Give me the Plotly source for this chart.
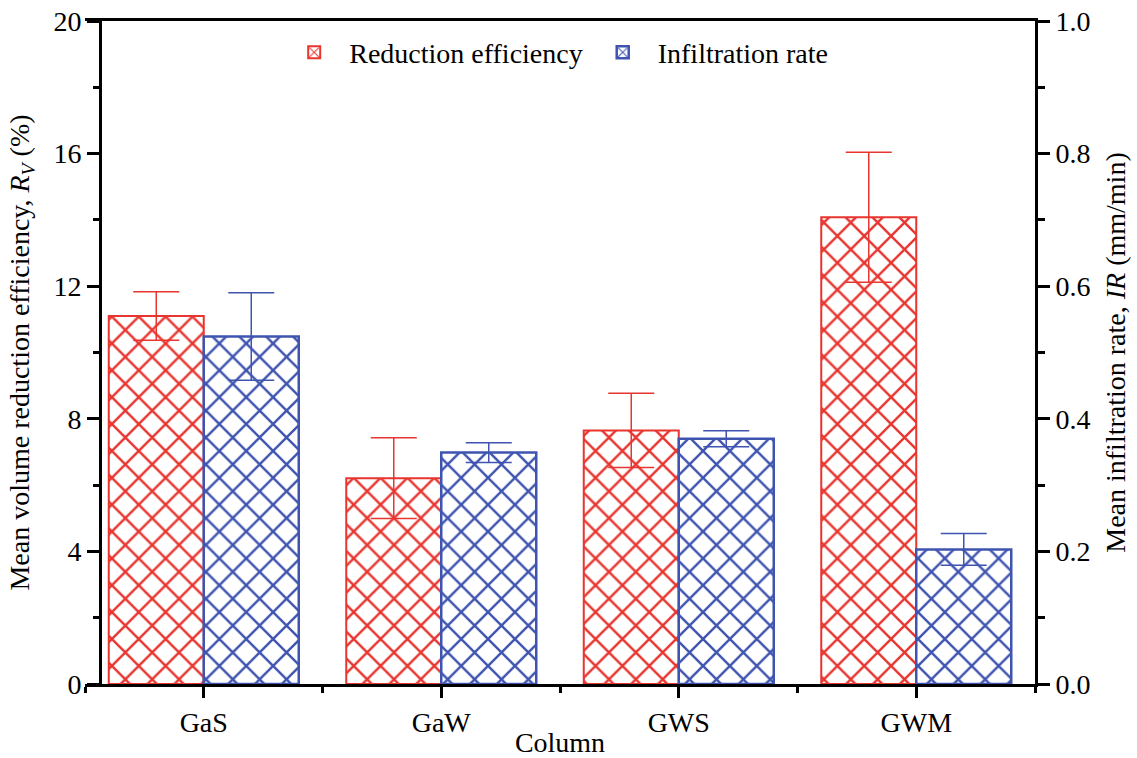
import plotly.graph_objects as go

categories = ["GaS", "GaW", "GWS", "GWM"]
cat_index = [0, 1, 2, 3]
reduction_eff = [11.10, 6.21, 7.65, 14.08]
reduction_err = [0.73, 1.22, 1.12, 1.96]
infil_rate = [0.524, 0.349, 0.370, 0.203]
infil_err = [0.066, 0.015, 0.012, 0.024]

RED = "#E8352F"
BLUE = "#3F54B0"
FONT = "Liberation Serif"
FS = 28

fig = go.Figure()
fig.add_trace(go.Bar(
    x=cat_index, y=reduction_eff, name="Reduction efficiency",
    width=0.4, offset=-0.4,
    marker=dict(color="white", line=dict(color=RED, width=2),
                pattern=dict(shape="x", fgcolor=RED, bgcolor="white", fgopacity=1,
                             size=19, solidity=0.24)),
    error_y=dict(type="data", array=reduction_err, color=RED, thickness=1.5, width=23),
    yaxis="y",
))
fig.add_trace(go.Bar(
    x=cat_index, y=infil_rate, name="Infiltration rate",
    width=0.4, offset=0.0,
    marker=dict(color="white", line=dict(color=BLUE, width=2.5),
                pattern=dict(shape="x", fgcolor=BLUE, bgcolor="white", fgopacity=1,
                             size=19, solidity=0.24)),
    error_y=dict(type="data", array=infil_err, color=BLUE, thickness=1.5, width=23),
    yaxis="y2",
))

fig.update_layout(
    width=1137, height=758,
    margin=dict(l=85, r=102, t=21, b=74, autoexpand=False),
    plot_bgcolor="white", paper_bgcolor="white",
    font=dict(family=FONT, size=FS, color="black"),
    showlegend=True,
    legend=dict(orientation="h", x=0.496, xanchor="center", y=0.99, yanchor="top",
                bgcolor="rgba(0,0,0,0)", font=dict(size=FS, family=FONT),
                itemwidth=60, tracegroupgap=0),
    xaxis=dict(
        range=[-0.5, 3.5], tickmode="array", tickvals=cat_index, ticktext=categories,
        showline=True, linecolor="black", linewidth=3, mirror=True,
        ticks="outside", ticklen=11, tickwidth=3, tickcolor="black",
        minor=dict(tickmode="linear", tick0=0.5, dtick=1, ticks="outside", ticklen=6,
                   tickwidth=3, tickcolor="black"),
        showgrid=False, zeroline=False, automargin=False,
        title=dict(text="Column", standoff=5, font=dict(size=FS)),
        tickfont=dict(size=FS),
    ),
    yaxis=dict(
        range=[0, 20], tickvals=[0, 4, 8, 12, 16, 20],
        anchor="free", position=15 / 950,
        showline=True, linecolor="black", linewidth=3,
        ticks="outside", ticklen=12, tickwidth=3, tickcolor="black",
        minor=dict(tickmode="linear", tick0=2, dtick=4, ticks="outside", ticklen=6,
                   tickwidth=3, tickcolor="black"),
        showgrid=False, zeroline=False, automargin=False,
        title=dict(text="Mean volume reduction efficiency, <i>R</i><sub><i>V</i></sub> (%)",
                   standoff=14, font=dict(size=FS)),
        tickfont=dict(size=FS),
    ),
    yaxis2=dict(
        range=[0, 1.0], tickvals=[0, 0.2, 0.4, 0.6, 0.8, 1.0],
        ticktext=["0.0", "0.2", "0.4", "0.6", "0.8", "1.0"],
        overlaying="y", side="right", anchor="x",
        showline=True, linecolor="black", linewidth=3,
        ticks="outside", ticklen=12, tickwidth=3, tickcolor="black",
        minor=dict(tickmode="linear", tick0=0.1, dtick=0.2, ticks="outside", ticklen=7,
                   tickwidth=3, tickcolor="black"),
        showgrid=False, zeroline=False, automargin=False,
        title=dict(text="Mean infiltration rate, <i>IR</i> (mm/min)", standoff=16, font=dict(size=FS)),
        tickfont=dict(size=FS),
    ),
)

fig.write_html("out.html")
